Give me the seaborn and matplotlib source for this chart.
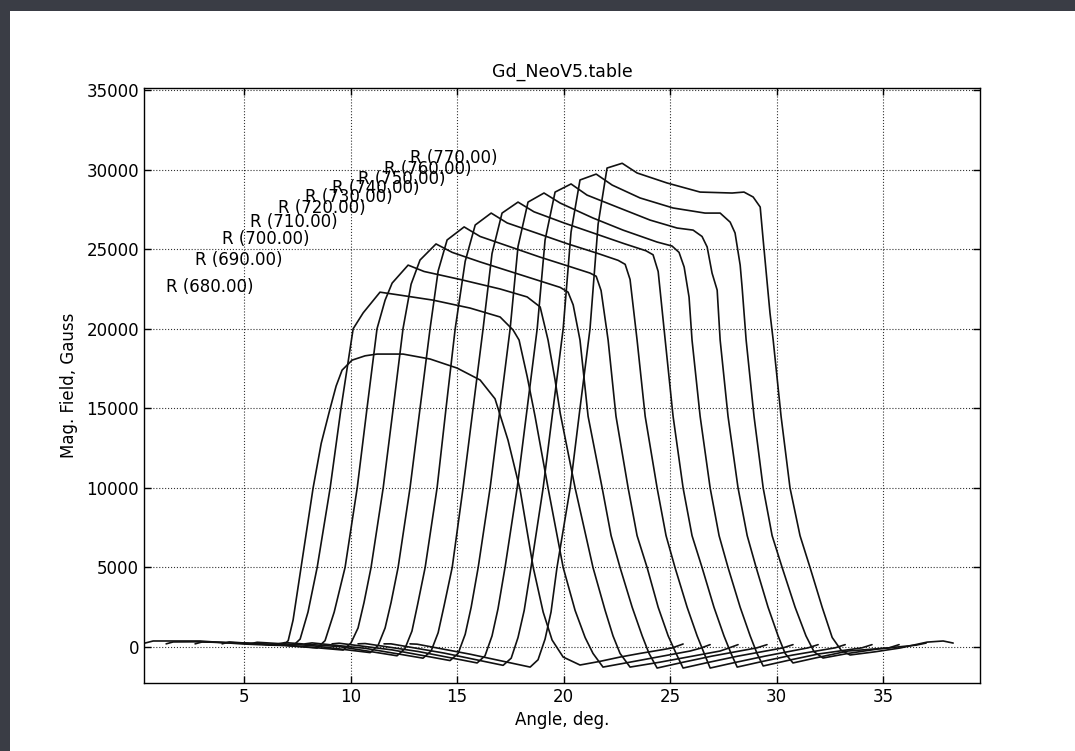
import matplotlib
matplotlib.use("Agg")
import matplotlib.pyplot as plt
from matplotlib.patches import Rectangle
import seaborn as sns
import pandas as pd

# ---------------- data (angle in deg, field in Gauss) ----------------
angle_670 = [0.35, 0.73, 2.93, 4.95, 6.22, 6.83, 7.07, 7.30, 7.77, 8.24, 8.62, 9.04, 9.32, 9.60,
             10.07, 10.68, 11.24, 12.46, 13.73, 15.00, 16.08, 16.78, 17.39, 17.96, 18.57, 19.04,
             19.46, 19.98, 20.77, 21.71, 22.65, 23.59, 24.53, 25.09, 25.61]
field_670 = [250, 380, 380, 190, 120, 100, 400, 1700, 5850, 10000, 12800, 15000, 16400, 17400,
             18030, 18300, 18410, 18410, 18100, 17530, 16780, 15600, 13000, 9870, 5030, 2200,
             440, -630, -1130, -900, -630, -400, -190, -60, 190]

angle_680 = [1.34, 1.67, 2.93, 4.95, 6.22, 7.30, 7.63, 8.00, 8.43, 9.04, 9.55, 10.12, 10.59, 11.38,
             12.14, 13.87, 15.61, 17.02, 17.63, 17.91, 18.29, 18.66, 19.27, 19.98, 20.54, 21.01,
             21.38, 21.85, 23.12, 24.53, 25.94, 26.41, 26.88]
field_680 = [200, 320, 330, 250, 150, 80, 500, 2200, 5000, 10000, 15000, 20000, 21000, 22300,
             22150, 21800, 21300, 20740, 19920, 19290, 17000, 14500, 10000, 5000, 2300, 600,
             -400, -1260, -950, -600, -250, -80, 150]

angle_690 = [2.70, 3.03, 4.95, 6.69, 8.43, 8.80, 9.23, 9.74, 10.31, 10.77, 11.24, 11.62, 11.95, 12.70,
             13.45, 15.14, 17.02, 18.29, 18.90, 19.27, 19.60, 19.84, 20.54, 21.38, 21.95, 22.32,
             22.65, 23.12, 24.53, 25.94, 27.35, 27.72, 28.19]
field_690 = [200, 320, 250, 120, -60, 400, 2200, 5000, 10000, 15000, 20000, 21800, 22870, 24000,
             23600, 23100, 22500, 22000, 21370, 19290, 16780, 14700, 10000, 5000, 2300, 700,
             -400, -1260, -950, -600, -250, -80, 150]

angle_700 = [3.97, 4.30, 4.95, 7.16, 9.65, 10.02, 10.35, 10.63, 10.96, 11.53, 12.00, 12.46, 12.84,
             13.26, 14.01, 14.77, 16.08, 17.49, 18.90, 19.84, 20.21, 20.45, 20.77, 21.15, 21.81,
             22.23, 22.65, 23.22, 23.69, 24.01, 24.39, 25.56, 26.97, 29.08, 29.55]
field_700 = [200, 320, 260, 100, -190, 260, 1200, 2800, 5000, 10000, 15000, 20000, 22800,
             24320, 25330, 24800, 24200, 23600, 23000, 22600, 22300, 21500, 19290, 14500, 10000,
             7000, 5000, 2500, 700, -400, -1320, -970, -570, -50, 150]

angle_710 = [5.28, 5.61, 8.10, 10.92, 11.29, 11.62, 11.90, 12.23, 12.79, 13.26, 13.73, 14.11, 14.53,
             15.33, 16.08, 17.49, 18.90, 20.31, 21.24, 21.53, 21.76, 22.09, 22.46, 23.03, 23.45,
             23.92, 24.44, 24.91, 25.28, 25.61, 26.78, 28.19, 30.31, 30.77]
field_710 = [200, 300, 100, -350, 100, 1200, 2800, 5000, 10000, 15000, 20000, 23630, 25580,
             26400, 25800, 25150, 24500, 23900, 23500, 23300, 22400, 19290, 14500, 10000, 7000,
             5000, 2500, 700, -400, -1320, -970, -570, -50, 150]

angle_720 = [6.60, 6.92, 9.51, 12.18, 12.55, 12.88, 13.15, 13.50, 14.06, 14.48, 14.91, 15.38, 15.85,
             16.60, 17.35, 18.76, 20.16, 21.57, 22.56, 22.89, 23.12, 23.45, 23.83, 24.39, 24.81,
             25.23, 25.80, 26.27, 26.60, 26.88, 28.05, 29.46, 31.48, 31.95]
field_720 = [200, 280, 20, -550, -100, 1000, 2700, 5000, 10000, 15000, 20000, 24240, 26520,
             27270, 26650, 26000, 25350, 24750, 24300, 24050, 23100, 19290, 14500, 10000, 7000,
             5000, 2500, 700, -400, -1320, -970, -570, -50, 150]

angle_730 = [7.86, 8.19, 10.68, 13.40, 13.78, 14.11, 14.39, 14.77, 15.28, 15.75, 16.22, 16.64, 17.11,
             17.86, 18.61, 20.02, 21.43, 22.84, 23.87, 24.20, 24.44, 24.77, 25.14, 25.61, 26.03,
             26.50, 27.06, 27.53, 27.86, 28.15, 29.32, 30.73, 32.75, 33.22]
field_730 = [200, 260, -80, -700, -250, 900, 2600, 5000, 10000, 15000, 20000, 24730, 27270,
             27960, 27350, 26650, 26000, 25350, 24900, 24650, 23600, 19290, 14500, 10000, 7000,
             5000, 2500, 700, -400, -1260, -910, -510, -50, 150]

angle_740 = [9.13, 9.46, 11.95, 14.67, 15.05, 15.38, 15.66, 15.99, 16.55, 17.02, 17.49, 17.86, 18.33,
             19.08, 19.84, 21.38, 22.79, 24.39, 25.09, 25.42, 25.66, 25.89, 26.03, 26.41, 26.88,
             27.30, 27.72, 28.29, 28.76, 29.08, 29.37, 30.54, 31.95, 34.01, 34.48]
field_740 = [200, 240, -180, -850, -400, 800, 2500, 5000, 10000, 15000, 20000, 25170, 27960,
             28530, 27900, 26960, 26200, 25450, 25200, 24800, 23880, 21990, 19290, 14500, 10000,
             7000, 5000, 2500, 700, -400, -1190, -840, -440, -50, 150]

angle_750 = [10.35, 10.68, 13.17, 15.94, 16.31, 16.64, 16.92, 17.25, 17.82, 18.29, 18.76, 19.13,
             19.60, 20.35, 21.10, 22.51, 24.06, 25.33, 26.08, 26.50, 26.74, 26.97, 27.21, 27.35,
             27.72, 28.19, 28.62, 29.04, 29.60, 30.07, 30.40, 30.77, 31.95, 33.36, 35.28, 35.75]
field_750 = [200, 220, -280, -1000, -550, 700, 2400, 5000, 10000, 15000, 20000, 25580, 28590,
             29100, 28400, 27650, 26830, 26330, 26200, 25800, 25140, 23500, 22430, 19290, 14500,
             10000, 7000, 5000, 2500, 700, -400, -1000, -650, -250, -50, 150]

angle_760 = [11.57, 11.90, 14.39, 17.16, 17.54, 17.86, 18.15, 18.47, 19.04, 19.51, 19.98, 20.35,
             20.77, 21.53, 22.28, 23.59, 25.14, 26.64, 27.35, 27.82, 28.05, 28.29, 28.38, 28.57,
             28.94, 29.37, 29.79, 30.26, 30.87, 31.38, 31.76, 32.18, 33.36, 34.77, 36.55, 37.02]
field_760 = [200, 200, -380, -1150, -700, 600, 2300, 5000, 10000, 15000, 20000, 26080, 29350,
             29720, 29030, 28220, 27590, 27270, 27270, 26700, 26020, 24000, 22620, 19290, 14500,
             10000, 7000, 5000, 2500, 700, -300, -690, -400, -120, 120, 250]

angle_770 = [12.79, 13.12, 15.61, 18.43, 18.80, 19.13, 19.41, 19.69, 20.31, 20.77, 21.24, 21.62,
             22.04, 22.75, 23.45, 24.86, 26.41, 27.91, 28.47, 28.90, 29.23, 29.37, 29.69, 29.84,
             30.21, 30.63, 31.10, 31.57, 32.14, 32.61, 33.03, 33.45, 34.62, 35.80, 37.07, 37.82,
             38.29]
field_770 = [200, 180, -450, -1260, -800, 500, 2200, 5000, 10000, 15000, 20000, 26570, 30100,
             30400, 29790, 29160, 28590, 28530, 28590, 28280, 27650, 25580, 20990, 19290, 14500,
             10000, 7000, 5000, 2500, 600, -200, -500, -300, -60, 310, 380, 250]

radii = [670, 680, 690, 700, 710, 720, 730, 740, 750, 760, 770]
labelled_radii = [680, 690, 700, 710, 720, 730, 740, 750, 760, 770]
angles = [angle_670, angle_680, angle_690, angle_700, angle_710, angle_720,
          angle_730, angle_740, angle_750, angle_760, angle_770]
fields = [field_670, field_680, field_690, field_700, field_710, field_720,
          field_730, field_740, field_750, field_760, field_770]

title = "Gd_NeoV5.table"
x_label = "Angle, deg."
y_label = "Mag. Field, Gauss"
x_ticks = [5, 10, 15, 20, 25, 30, 35]
y_ticks = [0, 5000, 10000, 15000, 20000, 25000, 30000, 35000]

# ---------------- figure ----------------
sns.set_style("ticks")
plt.rcParams["font.family"] = ["DejaVu Sans"]
plt.rcParams["font.size"] = 12
plt.rcParams["text.color"] = "black"
plt.rcParams["axes.labelcolor"] = "black"
plt.rcParams["xtick.color"] = "black"
plt.rcParams["ytick.color"] = "black"

W, H = 1075, 751
fig = plt.figure(figsize=(W / 100, H / 100), dpi=100, facecolor="#3a3d45")
fig.add_artist(Rectangle((10 / W, 0), 1 - 10 / W, 1 - 11 / H, transform=fig.transFigure,
                         facecolor="white", edgecolor="none", zorder=-10))
ax = fig.add_axes([144 / W, 1 - 683 / H, (980 - 144) / W, (683 - 88) / H])
ax.set_zorder(5)
ax.set_facecolor("white")

for r, a, f in zip(radii, angles, fields):
    df = pd.DataFrame({"angle": a, "field": f})
    sns.lineplot(data=df, x="angle", y="field", sort=False, estimator=None,
                 color="#111111", linewidth=1.2, ax=ax)
    if r in labelled_radii:
        ax.text(a[0], max(f), "R (%.2f)" % r, ha="left", va="baseline",
                fontsize=12, color="black")

ax.set_xlim(0.3, 39.55)
ax.set_ylim(-2260, 35130)
ax.set_xticks(x_ticks)
ax.set_yticks(y_ticks)
ax.grid(True, linestyle=":", color="black", linewidth=0.8, alpha=0.8)
ax.tick_params(direction="in", top=True, right=True, length=5, width=1,
               labelsize=12, colors="black")
for s in ax.spines.values():
    s.set_visible(True)
    s.set_color("black")
    s.set_linewidth(1.0)

ax.set_title(title, fontsize=12.5, pad=8, color="black")
ax.set_xlabel(x_label, fontsize=12, labelpad=4, color="black")
ax.set_ylabel(y_label, fontsize=12, labelpad=6, color="black")

fig.savefig("out.png", dpi=100, facecolor=fig.get_facecolor())
